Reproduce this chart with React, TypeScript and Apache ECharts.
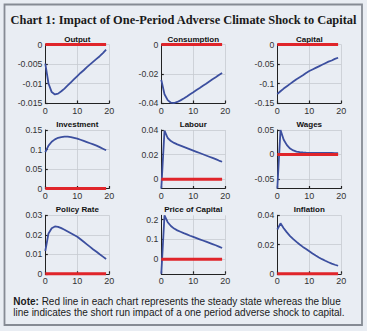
import React, { useEffect, useRef } from "react";
import * as echarts from "echarts";

const periods = [0, 1, 2, 3, 4, 5, 6, 7, 8, 9, 10, 11, 12, 13, 14, 15, 16, 17, 18, 19];
const steadyState = 0;

const output = [-0.0049, -0.0100, -0.0122, -0.0128, -0.0126, -0.0120, -0.0113, -0.0105, -0.0097, -0.0089, -0.0081, -0.0073, -0.0066, -0.0058, -0.0051, -0.0044, -0.0037, -0.0030, -0.0022, -0.0013];
const consumption = [-0.0242, -0.0340, -0.0380, -0.0398, -0.0400, -0.0393, -0.0382, -0.0369, -0.0355, -0.0340, -0.0326, -0.0311, -0.0297, -0.0282, -0.0268, -0.0253, -0.0238, -0.0224, -0.0209, -0.0195];
const capital = [-0.127, -0.120, -0.113, -0.107, -0.101, -0.095, -0.089, -0.084, -0.079, -0.073, -0.068, -0.064, -0.060, -0.056, -0.052, -0.048, -0.044, -0.041, -0.037, -0.034];
const investment = [0.093, 0.110, 0.120, 0.126, 0.130, 0.132, 0.133, 0.133, 0.132, 0.130, 0.128, 0.125, 0.122, 0.119, 0.116, 0.113, 0.110, 0.106, 0.102, 0.098];
const labour = [-0.0075, 0.0395, 0.0335, 0.0310, 0.0295, 0.0283, 0.0273, 0.0263, 0.0253, 0.0243, 0.0233, 0.0223, 0.0213, 0.0203, 0.0193, 0.0183, 0.0173, 0.0163, 0.0152, 0.0142];
const wages = [-0.07, 0.050, 0.030, 0.019, 0.012, 0.008, 0.0058, 0.0046, 0.0039, 0.0035, 0.0032, 0.0031, 0.0030, 0.0030, 0.0029, 0.0029, 0.0028, 0.0028, 0.0027, 0.0027];
const policyRate = [0.0117, 0.0207, 0.0234, 0.0243, 0.0241, 0.0234, 0.0226, 0.0217, 0.0208, 0.0199, 0.0190, 0.0177, 0.0164, 0.0151, 0.0138, 0.0125, 0.0113, 0.0100, 0.0088, 0.0076];
const priceOfCapital = [-0.073, 0.222, 0.187, 0.168, 0.155, 0.146, 0.139, 0.132, 0.126, 0.119, 0.113, 0.107, 0.101, 0.095, 0.089, 0.083, 0.077, 0.071, 0.064, 0.057];
const inflation = [0.0303, 0.0345, 0.0312, 0.0283, 0.0258, 0.0237, 0.0218, 0.0200, 0.0184, 0.0169, 0.0154, 0.0139, 0.0125, 0.0112, 0.0100, 0.0089, 0.0079, 0.0070, 0.0062, 0.0055];

const panelTitles = ["Output", "Consumption", "Capital", "Investment", "Labour", "Wages", "Policy Rate", "Price of Capital", "Inflation"];
const panelSeries = [output, consumption, capital, investment, labour, wages, policyRate, priceOfCapital, inflation];
const yMins = [-0.015, -0.04, -0.15, 0, -0.0075, -0.07, 0, -0.073, 0];
const yMaxs = [0, 0, 0, 0.15, 0.04, 0.05, 0.03, 0.222, 0.04];
const yTicks = [
  [-0.015, -0.01, -0.005, 0],
  [-0.04, -0.02, 0],
  [-0.15, -0.1, -0.05, 0],
  [0, 0.05, 0.1, 0.15],
  [0, 0.02, 0.04],
  [-0.05, 0, 0.05],
  [0, 0.01, 0.02, 0.03],
  [0, 0.1, 0.2],
  [0, 0.02, 0.04],
];
const xTicks = [0, 10, 20];

const chartTitle = "Chart 1: Impact of One-Period Adverse Climate Shock to Capital";
const noteLine1 = "Red line in each chart represents the steady state whereas the blue";
const noteLine2 = "line indicates the short run impact of a one period adverse shock to capital.";

const colLefts = [45.3, 161.3, 277.3];
const rowTops = [44.5, 130, 215.3];
const plotW = 64;
const plotH = 58.5;

export default function App() {
  const ref = useRef<HTMLDivElement>(null);
  useEffect(() => {
    if (!ref.current) return;
    const chart = echarts.init(ref.current, null, { renderer: "svg" });
    const grids: any[] = [];
    const xAxes: any[] = [];
    const yAxes: any[] = [];
    const series: any[] = [];
    const graphics: any[] = [];
    const axisColor = "#222";
    const gridColor = "#c6cad1";
    const labelFont = "Liberation Sans, Arial, sans-serif";
    panelSeries.forEach((vals, i) => {
      const r = Math.floor(i / 3);
      const c = i % 3;
      const left = colLefts[c];
      const top = rowTops[r];
      grids.push({ left, top, width: plotW, height: plotH, containLabel: false });
      xAxes.push({
        type: "value",
        gridIndex: i,
        min: 0,
        max: 20,
        axisLine: { show: true, onZero: false, lineStyle: { color: axisColor, width: 1 } },
        axisTick: { show: true, inside: true, length: 2.5, customValues: xTicks, lineStyle: { color: axisColor, width: 1.2 } },
        axisLabel: { customValues: xTicks, fontSize: 9, color: "#333", margin: 3, fontFamily: labelFont },
        splitLine: { show: true, lineStyle: { color: gridColor, width: 0.8 } },
      });
      yAxes.push({
        type: "value",
        gridIndex: i,
        min: yMins[i],
        max: yMaxs[i],
        axisLine: { show: true, onZero: false, lineStyle: { color: axisColor, width: 1 } },
        axisTick: { show: true, inside: true, length: 2.5, customValues: yTicks[i], lineStyle: { color: axisColor, width: 1.2 } },
        axisLabel: { customValues: yTicks[i], fontSize: 8.7, color: "#333", margin: 3, fontFamily: labelFont },
        splitLine: { show: true, lineStyle: { color: gridColor, width: 0.8 } },
      });
      series.push({
        type: "line",
        xAxisIndex: i,
        yAxisIndex: i,
        data: periods.map((p, k) => [p, vals[k]]),
        showSymbol: false,
        lineStyle: { color: "#3c4f9f", width: 1.8 },
        z: 3,
      });
      series.push({
        type: "line",
        xAxisIndex: i,
        yAxisIndex: i,
        data: periods.map((p) => [p, steadyState]),
        showSymbol: false,
        lineStyle: { color: "#e0252a", width: 3 },
        z: 4,
        clip: false,
      });
      graphics.push({
        type: "text",
        x: left + plotW / 2,
        y: top - 5.5,
        style: {
          text: panelTitles[i],
          font: "bold 8px 'Liberation Sans', Arial, sans-serif",
          fill: "#111",
          align: "center",
          verticalAlign: "middle",
        },
      });
    });
    graphics.push({
      type: "rect",
      shape: { x: 4.5, y: 4.5, width: 357.5, height: 320.5 },
      style: { fill: "none", stroke: "#868b94", lineWidth: 1.8 },
      z: 10,
    });
    graphics.push({
      type: "text",
      x: 183.5,
      y: 19.5,
      style: {
        text: chartTitle,
        font: "bold 12.4px 'Liberation Serif', 'DejaVu Serif', serif",
        fill: "#1a1a1a",
        align: "center",
        verticalAlign: "middle",
      },
    });
    graphics.push({
      type: "text",
      x: 13.3,
      y: 301.5,
      style: {
        text: "{b|Note:} " + noteLine1,
        font: "10px 'Liberation Sans', Arial, sans-serif",
        fill: "#1a1a1a",
        align: "left",
        verticalAlign: "middle",
        rich: { b: { fontWeight: "bold", fontSize: 10, fontFamily: labelFont, fill: "#1a1a1a" } },
      },
    });
    graphics.push({
      type: "text",
      x: 13.3,
      y: 312.9,
      style: {
        text: noteLine2,
        font: "10px 'Liberation Sans', Arial, sans-serif",
        fill: "#1a1a1a",
        align: "left",
        verticalAlign: "middle",
      },
    });
    chart.setOption({
      animation: false,
      backgroundColor: "#e9edf3",
      grid: grids,
      xAxis: xAxes,
      yAxis: yAxes,
      series,
      graphic: graphics,
    });
    return () => chart.dispose();
  }, []);
  return <div ref={ref} style={{ position: "fixed", left: 0, top: 0, width: 367, height: 331 }} />;
}
